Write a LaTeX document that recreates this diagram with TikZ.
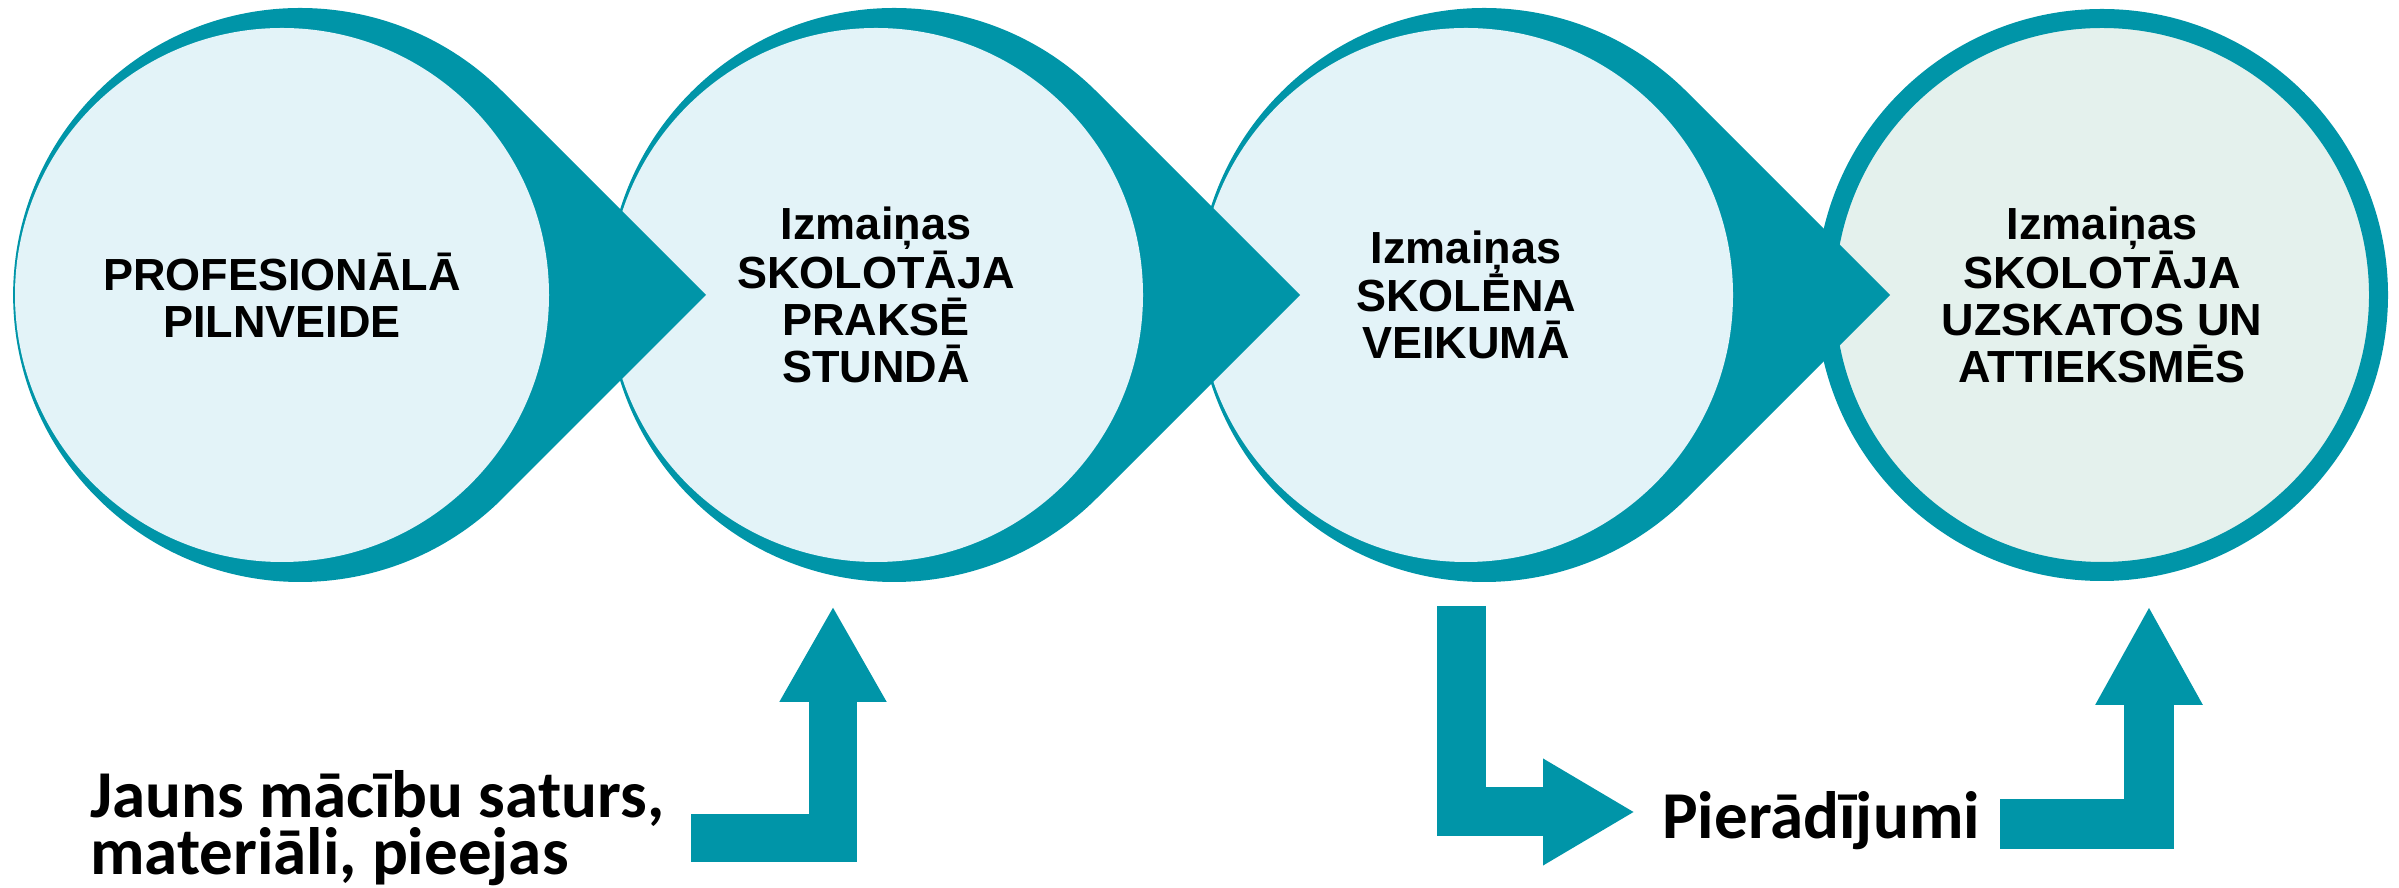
\documentclass[tikz,border=0pt]{standalone}
\usepackage{fontspec}
\usetikzlibrary{arrows.meta}
\newfontfamily\circfont{Liberation Sans}
\newfontfamily\notefont{Carlito}
\definecolor{dropteal}{RGB}{0,149,168}
\definecolor{palecyan}{RGB}{227,243,248}
\definecolor{palemint}{RGB}{228,241,237}

\begin{document}
\begin{tikzpicture}[x=1pt,y=1pt,
  bubble/.style={circle,fill=palecyan,inner sep=0pt,minimum size=534pt,align=center,
    font={\circfont\bfseries\fontsize{45}{47}\selectfont}},
  flow/.style={draw=dropteal,line width=48pt,-{Triangle[width=100pt,length=96pt]}},
  note/.style={anchor=base west,inner sep=0pt,align=left,
    font={\notefont\bfseries\fontsize{67}{56}\selectfont}}]
  \useasboundingbox (0,0) rectangle (2399,888);

  % right to left, so that each point lies over the next circle
  \node[bubble,fill=palemint,draw=dropteal,line width=19pt,minimum size=553pt] (c4) at (2102,593)
    {Izmaiņas\\SKOLOTĀJA\\UZSKATOS UN\\ATTIEKSMĒS};

  \fill[dropteal] (1484,593) ++(406,0) -- ++(135:287) arc[start angle=45,end angle=315,radius=287] -- cycle;
  \node[bubble] (c3) at (1466,593) {Izmaiņas\\SKOLĒNA\\VEIKUMĀ};

  \fill[dropteal] (894,593) ++(406,0) -- ++(135:287) arc[start angle=45,end angle=315,radius=287] -- cycle;
  \node[bubble] (c2) at (876,593) {Izmaiņas\\SKOLOTĀJA\\PRAKSĒ\\STUNDĀ};

  \fill[dropteal] (300,593) ++(406,0) -- ++(135:287) arc[start angle=45,end angle=315,radius=287] -- cycle;
  \node[bubble] (c1) at (282,593) {PROFESIONĀLĀ\\PILNVEIDE};

  % bottom row (base is the last line)
  \node[note] (content) at (90,13) {Jauns mācību saturs,\\materiāli, pieejas};
  \node[note] (evidence) at (1662,49) {Pierādījumi};

  \coordinate (content to) at (691,50);
  \coordinate (c2 in) at (833,282);
  \draw[flow] (content to) -| (c2 in);

  \coordinate (c3 out) at (1461.5,282);
  \coordinate (evidence from) at (1635,76);
  \draw[flow,line width=49pt,-{Triangle[width=100pt,length=92pt]}] (c3 out) |- (evidence from);

  \coordinate (evidence to) at (2000,64);
  \coordinate (c4 in) at (2149,282);
  \draw[flow,line width=50pt,-{Triangle[width=100pt,length=99pt]}] (evidence to) -| (c4 in);
\end{tikzpicture}
\end{document}
